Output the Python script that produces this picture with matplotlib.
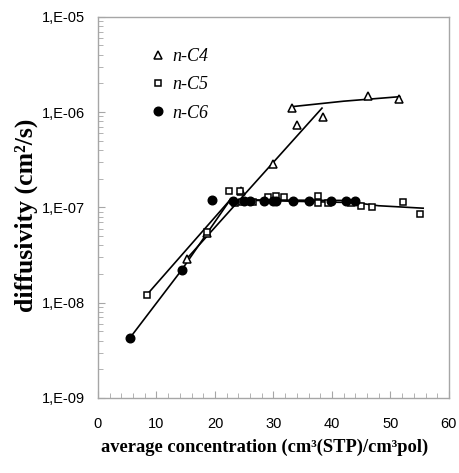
import matplotlib
matplotlib.use('Agg')
import matplotlib.pyplot as plt
from matplotlib.ticker import FuncFormatter, LogLocator, NullFormatter, MultipleLocator
import numpy as np

# measured points
c4_x = [15.2, 18.7, 24.5, 29.9, 33.2, 34.0, 38.4, 46.1, 51.5]
c4_y = [2.86e-8, 5.4e-8, 1.5e-7, 2.84e-7, 1.09e-6, 7.4e-7, 8.95e-7, 1.49e-6, 1.36e-6]

c5_x = [8.3, 18.7, 22.4, 24.3, 23.4, 24.6, 26.5, 29.1, 30.4, 31.8, 37.7, 37.7, 39.3, 43.2, 45.0, 46.8, 52.2, 55.0]
c5_y = [1.2e-8, 5.5e-8, 1.5e-7, 1.5e-7, 1.1e-7, 1.15e-7, 1.15e-7, 1.3e-7, 1.33e-7, 1.3e-7, 1.33e-7, 1.1e-7,
        1.1e-7, 1.1e-7, 1.03e-7, 1.0e-7, 1.13e-7, 8.6e-8]

c6_x = [5.5, 14.3, 19.5, 23.1, 25.0, 26.0, 28.4, 30.0, 30.5, 33.4, 36.1, 39.8, 42.4, 44.0]
c6_y = [4.3e-9, 2.2e-8, 1.2e-7, 1.17e-7, 1.17e-7, 1.17e-7, 1.17e-7, 1.17e-7, 1.17e-7, 1.17e-7, 1.17e-7,
        1.17e-7, 1.17e-7, 1.17e-7]

# fitted trend lines
c4_fit1_x = [15.2, 38.3]
c4_fit1_y = [2.9e-8, 1.1e-6]
c4_fit2_x = [33.2, 42.0, 51.6]
c4_fit2_y = [1.14e-6, 1.3e-6, 1.45e-6]
c5_fit_x = [8.3, 22.6, 44.0, 48.0, 55.6]
c5_fit_y = [1.2e-8, 1.2e-7, 1.12e-7, 1.04e-7, 9.8e-8]
c6_fit_x = [5.5, 14.3, 22.6, 44.3]
c6_fit_y = [4.3e-9, 2.2e-8, 1.2e-7, 1.18e-7]

fig = plt.figure(figsize=(4.59, 4.73), dpi=100)
ax = fig.add_axes([0.2135, 0.1586, 0.7645, 0.806])

lw = 1.2
ax.plot(c4_fit1_x, c4_fit1_y, color='black', lw=lw, zorder=2)
ax.plot(c4_fit2_x, c4_fit2_y, color='black', lw=lw, zorder=2)
ax.plot(c5_fit_x, c5_fit_y, color='black', lw=lw, zorder=2)
ax.plot(c6_fit_x, c6_fit_y, color='black', lw=lw, zorder=2)

ax.plot(c4_x, c4_y, ls='none', marker='^', ms=5.8, mfc='white', mec='black', mew=1.1, label='n-C4', zorder=3)
ax.plot(c5_x, c5_y, ls='none', marker='s', ms=4.8, mfc='white', mec='black', mew=1.1, label='n-C5', zorder=3)
ax.plot(c6_x, c6_y, ls='none', marker='o', ms=6.2, mfc='black', mec='black', label='n-C6', zorder=4)

ax.set_yscale('log')
ax.set_xlim(0, 60)
ax.set_ylim(1e-9, 1e-5)

ax.xaxis.set_major_locator(MultipleLocator(10))
ax.xaxis.set_minor_locator(MultipleLocator(2))
ax.yaxis.set_major_locator(LogLocator(base=10, numticks=10))
ax.yaxis.set_minor_locator(LogLocator(base=10, subs=np.arange(2, 10), numticks=10))
ax.yaxis.set_minor_formatter(NullFormatter())
ax.yaxis.set_major_formatter(FuncFormatter(lambda v, p: '1,E-%02d' % round(-np.log10(v))))

for s in ax.spines.values():
    s.set_color('#a6a6a6')
    s.set_linewidth(1.0)
ax.tick_params(which='both', direction='in', color='#a6a6a6', top=False, right=False,
               labelsize=10.5, labelfontfamily='Liberation Sans')
ax.tick_params(which='major', length=5)
ax.tick_params(which='minor', length=3.5)
ax.tick_params(axis='y', which='major', pad=9)
ax.tick_params(axis='x', which='major', pad=14)

ax.set_xlabel('average concentration (cm³(STP)/cm³pol)', fontfamily='Liberation Serif',
              fontweight='bold', fontsize=13.3)
ax.set_ylabel('diffusivity (cm²/s)', fontfamily='Liberation Serif',
              fontweight='bold', fontsize=18.5)
ax.xaxis.set_label_coords(0.475, -0.106)
ax.yaxis.set_label_coords(-0.172, 0.48)

leg = ax.legend(loc='upper left', bbox_to_anchor=(0.1, 0.96), frameon=False,
                prop={'family': 'Liberation Serif', 'style': 'italic', 'size': 13},
                handletextpad=0.3, labelspacing=0.62, handlelength=1.0)

fig.savefig('out.png', dpi=100)
